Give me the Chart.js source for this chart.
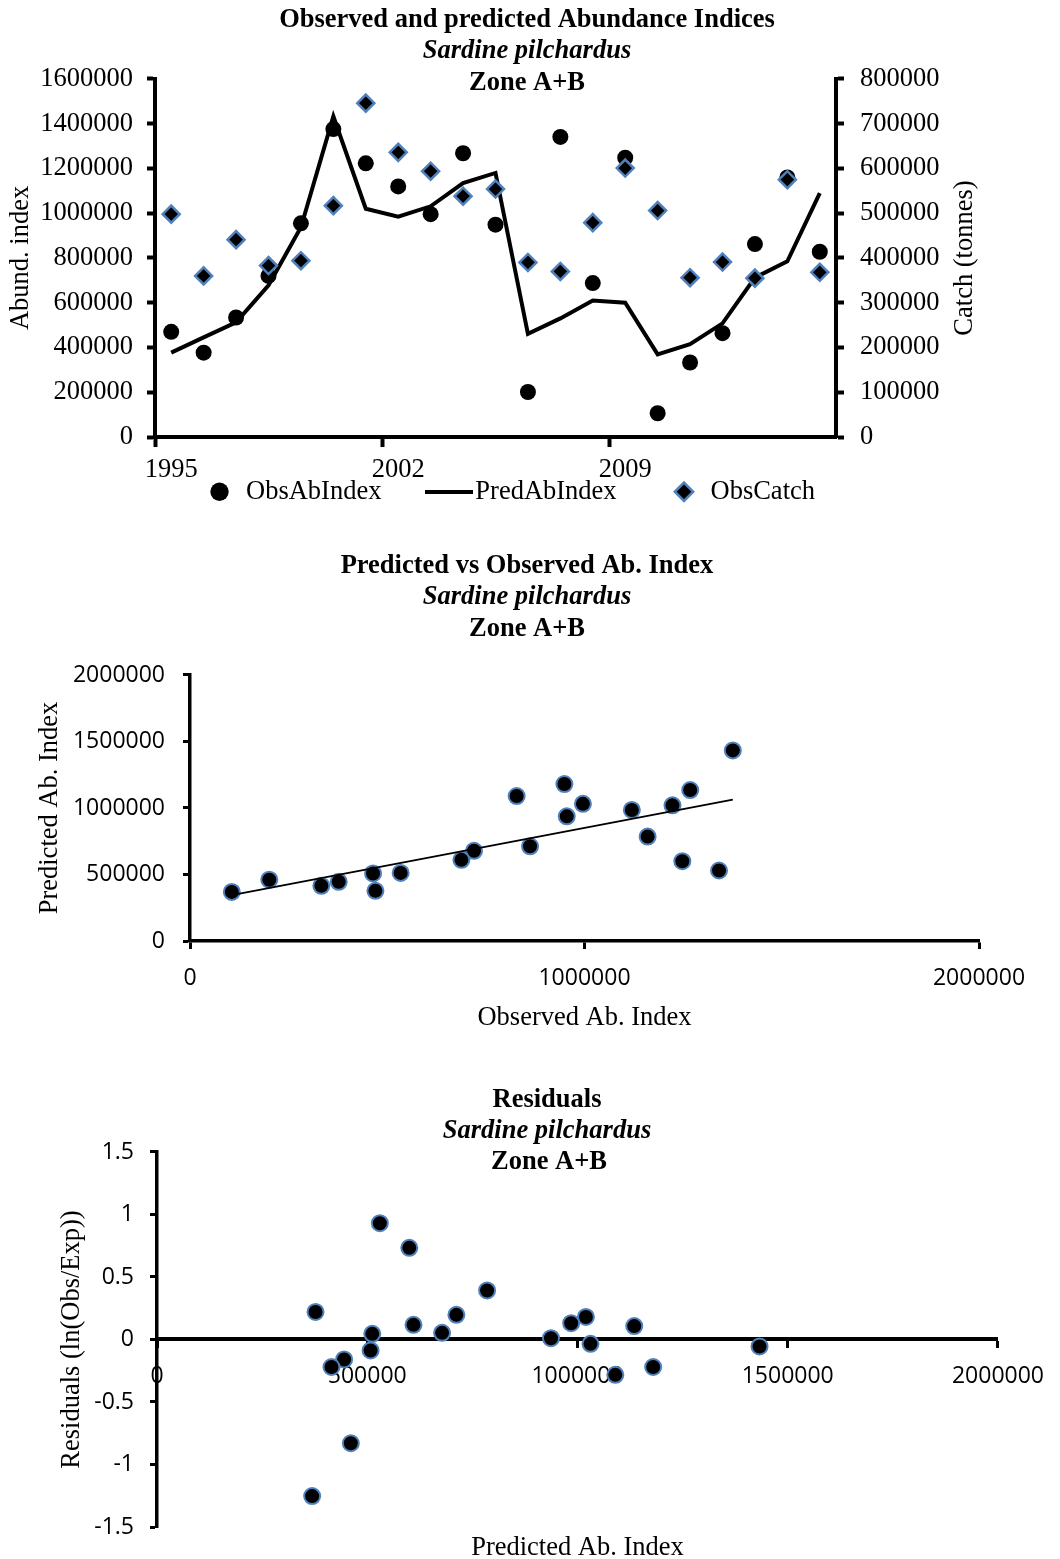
<!DOCTYPE html>
<html>
<head>
<meta charset="utf-8">
<title>Sardine pilchardus Zone A+B</title>
<style>
    html, body {
        margin: 0;
        padding: 0;
        background: #ffffff;
        overflow: hidden;
    }
    #page {
        position: relative;
        width: 1060px;
        height: 1559px;
    }
    canvas {
        position: absolute;
        left: 0;
    }
</style>
</head>
<body>
<div id="page">
    <canvas id="abChart" width="1060" height="515" style="top:0px"></canvas>
    <canvas id="pvoChart" width="1060" height="496" style="top:540px"></canvas>
    <canvas id="resChart" width="1060" height="484" style="top:1075px"></canvas>
</div>
<script src="https://cdn.jsdelivr.net/npm/chart.js@4.4.1/dist/chart.umd.min.js"></script>
<script type="text/javascript">

    // values
    var years = ['1995', '1996', '1997', '1998', '1999', '2000', '2001', '2002', '2003', '2004', '2005',
                 '2006', '2007', '2008', '2009', '2010', '2011', '2012', '2013', '2014', '2015'];
    var obsAbIndex = [470000, 377000, 534000, 720000, 955000, 1376000, 1223000, 1120000, 996000, 1268000, 949000,
                      201000, 1341000, 688000, 1248000, 106000, 333000, 464000, 862000, 1160000, 828000];
    var predAbIndex = [377000, 445000, 512000, 678000, 937000, 1433000, 1020000, 985000, 1031000, 1135000, 1180000,
                       461000, 530000, 610000, 600000, 369000, 415000, 508000, 712000, 785000, 1090000];
    var obsCatch = [498000, 360000, 441000, 383000, 394000, 517000, 746000, 636000, 594000, 538000, 554000,
                    390000, 370000, 479000, 601000, 506000, 356000, 391000, 355000, 575000, 368000];
    var residuals = [0.22, -0.16, 0.045, 0.053, 0.01, -0.056, 0.18, 0.13, -0.035, 0.107, -0.22,
                     -0.83, 0.93, 0.117, 0.733, -1.253, -0.22, -0.088, 0.197, 0.392, -0.283];
    // end points of the linear trend line in the second panel
    var trendObs = [106000, 1376000];
    var trendPred = [345000, 1063000];

    var SERIF = '"Liberation Serif", "Times New Roman", serif';
    var SANS = '"Open Sans", "Liberation Sans", sans-serif';
    var FS = 26.5;
    var BLUE = '#4f81bd';

    Chart.defaults.font.family = SERIF;
    Chart.defaults.font.size = FS;
    Chart.defaults.color = '#000';
    Chart.defaults.animation = false;

    function plain(v) { return String(v); }

    // small extra texts: third title line and the right axis title
    var extraText = {
        id: 'extraText',
        afterDraw: function(chart, args, opts) {
            var ctx = chart.ctx;
            (opts.items || []).forEach(function(it) {
                ctx.save();
                ctx.font = it.font;
                ctx.fillStyle = '#000';
                ctx.textAlign = 'center';
                ctx.textBaseline = 'middle';
                ctx.translate(it.x, it.y);
                if (it.rotate) ctx.rotate(it.rotate);
                ctx.fillText(it.text, 0, 0);
                ctx.restore();
            });
        }
    };

    // legend swatch for the predicted line
    var lineSwatch = document.createElement('canvas');
    lineSwatch.width = 48;
    lineSwatch.height = 4;
    lineSwatch.getContext('2d').fillRect(0, 0, 48, 4);

    // extra room after a legend entry (legend has a single padding value)
    var legendGap = {'ObsAbIndex': '     ', 'PredAbIndex': '     ', 'ObsCatch': ''};

    // empty axis used only to leave room under the plot
    function spacer(h) {
        return {
            position: 'bottom',
            grid: {display: false},
            ticks: {display: false},
            border: {display: false},
            afterFit: function(s) { s.height = h; }
        };
    }

    var titleFont = {size: FS, weight: 'bold', lineHeight: 1.15};
    var subFont = {size: FS, weight: 'bold', style: 'italic'};

    // ---------- panel 1 : time series ----------
    new Chart(document.getElementById('abChart'), {
        type: 'line',
        data: {
            labels: years,
            datasets: [{
                label: 'ObsAbIndex',
                data: obsAbIndex,
                yAxisID: 'y',
                showLine: false,
                pointStyle: 'circle',
                pointRadius: 8,
                backgroundColor: '#000',
                borderColor: '#000',
                borderWidth: 0,
                order: 2
            }, {
                label: 'PredAbIndex',
                data: predAbIndex,
                yAxisID: 'y',
                borderColor: '#000',
                backgroundColor: '#000',
                borderWidth: 4,
                pointRadius: 0,
                pointStyle: lineSwatch,
                tension: 0,
                order: 1
            }, {
                label: 'ObsCatch',
                data: obsCatch,
                yAxisID: 'y1',
                showLine: false,
                pointStyle: 'rectRot',
                pointRadius: 8.5,
                backgroundColor: '#000',
                borderColor: BLUE,
                borderWidth: 2.5,
                order: 0
            }]
        },
        options: {
            responsive: false,
            layout: {padding: {left: 0, right: 6, top: 0, bottom: 0}},
            plugins: {
                title: {display: true, text: 'Observed and predicted Abundance Indices', font: titleFont, padding: {top: 5, bottom: 0}},
                subtitle: {display: true, text: 'Sardine pilchardus', font: subFont, padding: {top: 0, bottom: 11.7}},
                legend: {
                    position: 'bottom',
                    fullSize: false,
                    align: 'end',
                    labels: {
                        usePointStyle: true,
                        boxHeight: 13,
                        padding: 21,
                        font: {size: FS},
                        sort: function(a, b) { return a.datasetIndex - b.datasetIndex; },
                        generateLabels: function(chart) {
                            var items = Chart.defaults.plugins.legend.labels.generateLabels(chart);
                            items.forEach(function(it) { it.text = it.text + (legendGap[it.text] || ''); });
                            return items;
                        }
                    }
                },
                tooltip: {enabled: false},
                extraText: {items: [
                    {text: 'Zone A+B', font: 'bold ' + FS + 'px ' + SERIF, x: 527, y: 83},
                    {text: 'Catch (tonnes)', font: FS + 'px ' + SERIF, x: 965, y: 258, rotate: -Math.PI / 2}
                ]}
            },
            scales: {
                x: {
                    type: 'category',
                    position: {y: 0},
                    offset: true,
                    grid: {
                        offset: true,
                        drawOnChartArea: false,
                        drawTicks: true,
                        tickLength: 8,
                        tickWidth: 4,
                        tickColor: function(c) { return (c.index % 7 === 0) ? '#000' : 'rgba(0,0,0,0)'; }
                    },
                    border: {display: true, width: 4, color: '#000'},
                    ticks: {
                        autoSkip: false,
                        maxRotation: 0,
                        padding: 9,
                        callback: function(value, index) { return index % 7 === 0 ? years[index] : ''; }
                    }
                },
                xGap: spacer(20.5),
                y: {
                    position: 'left',
                    min: 0,
                    max: 1600000,
                    ticks: {stepSize: 200000, padding: 14, callback: plain},
                    grid: {drawOnChartArea: false, tickLength: 8, tickWidth: 4, tickColor: '#000'},
                    border: {display: true, width: 4, color: '#000'},
                    title: {display: true, text: 'Abund. index', padding: {top: 5, bottom: 0}},
                    afterFit: function(s) { s.width = 155; }
                },
                y1: {
                    position: 'right',
                    min: 0,
                    max: 800000,
                    ticks: {stepSize: 100000, padding: 16, callback: plain},
                    grid: {drawOnChartArea: false, tickLength: 8, tickWidth: 4, tickColor: '#000'},
                    border: {display: true, width: 4, color: '#000'},
                    afterFit: function(s) { s.width = 218; }
                }
            }
        },
        plugins: [extraText]
    });

    // ---------- panel 2 : predicted vs observed ----------
    var pvoPoints = obsAbIndex.map(function(v, i) { return {x: v, y: predAbIndex[i]}; });
    var trendPoints = trendObs.map(function(v, i) { return {x: v, y: trendPred[i]}; });

    new Chart(document.getElementById('pvoChart'), {
        type: 'scatter',
        data: {
            datasets: [{
                label: 'Trend',
                data: trendPoints,
                showLine: true,
                borderColor: '#000',
                borderWidth: 2,
                pointRadius: 0,
                order: 0
            }, {
                label: 'Pred vs Obs',
                data: pvoPoints,
                pointRadius: 8,
                backgroundColor: '#000',
                borderColor: BLUE,
                borderWidth: 2,
                order: 1
            }]
        },
        options: {
            responsive: false,
            layout: {padding: {left: 0, right: 6, top: 0, bottom: 0}},
            plugins: {
                title: {display: true, text: 'Predicted vs Observed Ab. Index', font: titleFont, padding: {top: 11, bottom: 0}},
                subtitle: {display: true, text: 'Sardine pilchardus', font: subFont, padding: {top: 0, bottom: 61.7}},
                legend: {display: false},
                tooltip: {enabled: false},
                extraText: {items: [
                    {text: 'Zone A+B', font: 'bold ' + FS + 'px ' + SERIF, x: 527, y: 89}
                ]}
            },
            scales: {
                x: {
                    type: 'linear',
                    position: 'bottom',
                    min: 0,
                    max: 2000000,
                    ticks: {stepSize: 1000000, padding: 16, callback: plain, font: {family: SANS, size: 23}},
                    grid: {drawOnChartArea: false, tickLength: 8, tickWidth: 3, tickColor: '#000'},
                    border: {display: true, width: 3.5, color: '#000'},
                    title: {display: true, text: 'Observed Ab. Index', padding: {top: 0, bottom: 2}},
                    afterFit: function(s) { s.height = 95; }
                },
                y: {
                    type: 'linear',
                    position: 'left',
                    min: 0,
                    max: 2000000,
                    ticks: {stepSize: 500000, padding: 18, callback: plain, font: {family: SANS, size: 23}},
                    grid: {drawOnChartArea: false, tickLength: 7, tickWidth: 3, tickColor: '#000'},
                    border: {display: true, width: 3.5, color: '#000'},
                    title: {display: true, text: 'Predicted Ab. Index', padding: {top: 34, bottom: 0}},
                    afterFit: function(s) { s.width = 190; }
                },
                gap: {
                    position: 'right',
                    grid: {display: false},
                    ticks: {display: false},
                    border: {display: false},
                    afterFit: function(s) { s.width = 75; }
                }
            }
        },
        plugins: [extraText]
    });

    // ---------- panel 3 : residuals ----------
    var resPoints = predAbIndex.map(function(v, i) { return {x: v, y: residuals[i]}; });

    new Chart(document.getElementById('resChart'), {
        type: 'scatter',
        data: {
            datasets: [{
                label: 'Residuals',
                data: resPoints,
                xAxisID: 'x',
                pointRadius: 8,
                backgroundColor: '#000',
                borderColor: BLUE,
                borderWidth: 2
            }]
        },
        options: {
            responsive: false,
            layout: {padding: {left: 34, right: 0, top: 0, bottom: 0}},
            plugins: {
                title: {display: true, text: 'Residuals', font: titleFont, padding: {top: 10, bottom: 0}},
                subtitle: {display: true, text: 'Sardine pilchardus', font: subFont, padding: {top: 0, bottom: 4.7}},
                legend: {display: false},
                tooltip: {enabled: false},
                extraText: {items: [
                    {text: 'Zone A+B', font: 'bold ' + FS + 'px ' + SERIF, x: 549, y: 87}
                ]}
            },
            scales: {
                x: {
                    type: 'linear',
                    position: {y: 0},
                    min: 0,
                    max: 2000000,
                    ticks: {stepSize: 500000, padding: 16, callback: plain, font: {family: SANS, size: 23}},
                    grid: {drawOnChartArea: false, tickLength: 7, tickWidth: 3, tickColor: '#000'},
                    border: {display: true, width: 4, color: '#000'}
                },
                xTitle: {
                    type: 'linear',
                    position: 'bottom',
                    grid: {display: false},
                    ticks: {display: false},
                    border: {display: false},
                    title: {display: true, text: 'Predicted Ab. Index', font: {size: FS, lineHeight: 0.8}, padding: 0},
                    afterFit: function(s) { s.height = 32; }
                },
                y: {
                    type: 'linear',
                    position: 'left',
                    min: -1.5,
                    max: 1.5,
                    ticks: {stepSize: 0.5, padding: 16, callback: plain, font: {family: SANS, size: 23}},
                    grid: {drawOnChartArea: false, tickLength: 7, tickWidth: 3, tickColor: '#000'},
                    border: {display: true, width: 3.5, color: '#000'},
                    title: {display: true, text: 'Residuals (ln(Obs/Exp))', padding: {top: 22, bottom: 0}},
                    afterFit: function(s) { s.width = 123; }
                },
                gap: {
                    position: 'right',
                    grid: {display: false},
                    ticks: {display: false},
                    border: {display: false},
                    afterFit: function(s) { s.width = 54; }
                }
            }
        },
        plugins: [extraText]
    });

</script>
</body>
</html>
